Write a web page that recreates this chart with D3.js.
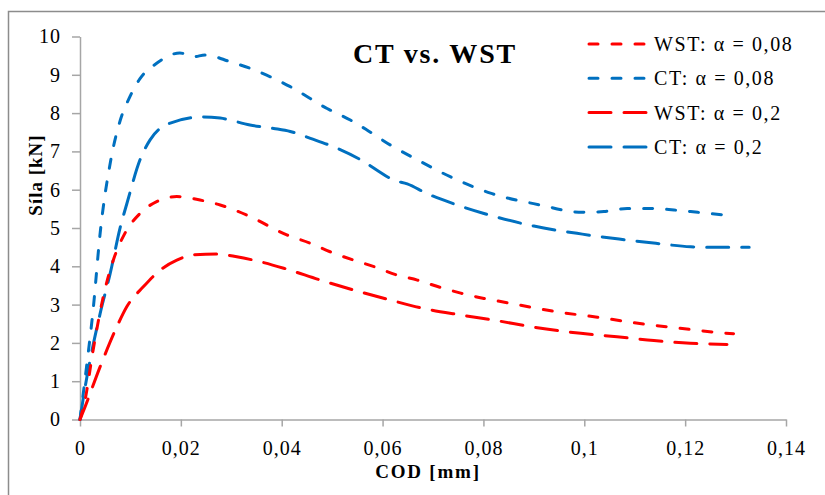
<!DOCTYPE html>
<html>
<head>
<meta charset="utf-8">
<script src="https://cdnjs.cloudflare.com/ajax/libs/d3/7.8.5/d3.min.js"></script>
<style>
    body { margin: 0; background: #fff; }
    text { font-family: "Liberation Serif", "Tinos", "Times New Roman", "DejaVu Serif", serif; fill: #000; }
</style>
</head>
<body>
<div id="chart"></div>
<script>
// values
const xTicks = [0, 0.02, 0.04, 0.06, 0.08, 0.1, 0.12, 0.14];
const yTicks = [0, 1, 2, 3, 4, 5, 6, 7, 8, 9, 10];

const wst008X = [0, 0.001, 0.0026, 0.0046, 0.0066, 0.0089, 0.0119, 0.0152, 0.0192, 0.0238, 0.0278, 0.0337, 0.041, 0.0457, 0.0496, 0.0543, 0.0583, 0.0629, 0.0669, 0.0714, 0.0755, 0.0801, 0.0847, 0.0894, 0.0946, 0.1026, 0.1072, 0.1119, 0.1165, 0.1211, 0.1258, 0.1296];
const wst008Y = [0, 0.51, 1.81, 3.2, 4.16, 4.86, 5.38, 5.69, 5.82, 5.73, 5.6, 5.3, 4.82, 4.6, 4.38, 4.16, 3.99, 3.77, 3.64, 3.45, 3.3, 3.16, 3.05, 2.93, 2.81, 2.67, 2.58, 2.49, 2.42, 2.35, 2.28, 2.24];

const ct008X = [0, 0.0013, 0.0026, 0.004, 0.006, 0.008, 0.0099, 0.0119, 0.0152, 0.0198, 0.0225, 0.0248, 0.0298, 0.0337, 0.0417, 0.049, 0.0536, 0.0569, 0.0615, 0.0669, 0.0734, 0.0814, 0.0913, 0.0996, 0.1039, 0.1085, 0.1132, 0.1178, 0.1225, 0.1285];
const ct008Y = [0, 1.38, 2.86, 4.87, 6.7, 7.82, 8.43, 8.9, 9.3, 9.57, 9.47, 9.52, 9.34, 9.17, 8.69, 8.12, 7.82, 7.56, 7.17, 6.78, 6.34, 5.91, 5.6, 5.41, 5.43, 5.51, 5.51, 5.47, 5.41, 5.33];

const wst02X = [0, 0.001, 0.004, 0.0073, 0.0093, 0.0126, 0.0159, 0.0192, 0.0225, 0.0271, 0.0311, 0.0357, 0.0404, 0.0477, 0.0543, 0.0615, 0.0681, 0.0755, 0.0827, 0.09, 0.0993, 0.1065, 0.1138, 0.121, 0.1283];
const wst02Y = [0, 0.33, 1.38, 2.42, 2.95, 3.47, 3.9, 4.16, 4.3, 4.32, 4.25, 4.12, 3.95, 3.64, 3.38, 3.12, 2.9, 2.73, 2.58, 2.41, 2.25, 2.16, 2.06, 1.99, 1.96];

const ct02X = [0, 0.0007, 0.002, 0.004, 0.006, 0.008, 0.0093, 0.0119, 0.0139, 0.0179, 0.0245, 0.0278, 0.0337, 0.0384, 0.0417, 0.0457, 0.051, 0.0563, 0.0589, 0.0622, 0.0649, 0.0688, 0.0748, 0.0801, 0.09, 0.0996, 0.1069, 0.1142, 0.1211, 0.1238, 0.1327];
const ct02Y = [0, 0.6, 1.55, 2.77, 3.82, 5.03, 5.64, 6.78, 7.3, 7.74, 7.9, 7.87, 7.69, 7.6, 7.52, 7.34, 7.08, 6.73, 6.51, 6.25, 6.15, 5.9, 5.6, 5.38, 5.05, 4.84, 4.71, 4.6, 4.51, 4.5, 4.5];

const seriesNames = ["WST: α = 0,08", "CT: α = 0,08", "WST: α = 0,2", "CT: α = 0,2"];

const SERIF = "'Liberation Serif', 'Tinos', 'Times New Roman', 'DejaVu Serif', serif";

function renderChart() {
    const W = 825, H = 495;
    const margin = {top: 36.5, right: 39, bottom: 75.5, left: 80},
        width = W - margin.left - margin.right,
        height = H - margin.top - margin.bottom;

    const root = d3.select("#chart").append("svg")
        .attr("width", W)
        .attr("height", H)
        .attr("font-family", SERIF);

    // outer frame (right and bottom edges fall off the picture)
    root.append("rect")
        .attr("x", 8.5).attr("y", 11.5)
        .attr("width", 900).attr("height", 600)
        .attr("fill", "none")
        .attr("stroke", "#8c8c8c")
        .attr("stroke-width", 1.5);

    const svg = root.append("g")
        .attr("transform", "translate(" + margin.left + "," + margin.top + ")");

    const x = d3.scaleLinear().domain([0, 0.14]).range([0, width]);
    const y = d3.scaleLinear().domain([0, 10]).range([height, 0]);

    const fmt = d => String(d).replace(".", ",");

    // Add X axis
    const xAxis = svg.append("g")
        .attr("transform", "translate(0," + height + ")")
        .call(d3.axisBottom(x).tickValues(xTicks).tickFormat(fmt)
            .tickSize(7).tickSizeOuter(0).tickPadding(14));

    // Add Y axis
    const yAxis = svg.append("g")
        .call(d3.axisLeft(y).tickValues(yTicks).tickFormat(fmt)
            .tickSize(8).tickSizeOuter(0).tickPadding(11));

    [xAxis, yAxis].forEach(function (a) {
        a.attr("font-family", SERIF).attr("font-size", 20);
        a.selectAll(".domain, .tick line")
            .attr("stroke", "#a6a6a6")
            .attr("stroke-width", 1.5);
        a.selectAll(".tick text")
            .style("font-family", SERIF)
            .style("font-weight", "normal")
            .style("letter-spacing", "1px")
            .attr("fill", "#000");
    });

    // axis titles and chart title
    root.append("text")
        .attr("x", 428).attr("y", 478)
        .attr("text-anchor", "middle")
        .style("font-size", "19px").style("font-weight", "bold")
        .style("letter-spacing", "1.8px")
        .text("COD [mm]");

    root.append("text")
        .attr("transform", "translate(42,175) rotate(-90)")
        .attr("text-anchor", "middle")
        .style("font-size", "19px").style("font-weight", "bold")
        .style("letter-spacing", "1px")
        .text("Síla [kN]");

    root.append("text")
        .attr("x", 435).attr("y", 63)
        .attr("text-anchor", "middle")
        .style("font-size", "28px").style("font-weight", "bold")
        .style("letter-spacing", "1.8px")
        .text("CT vs. WST");

    const series = [
        {name: seriesNames[0], xs: wst008X, ys: wst008Y, color: "#ff0000", dash: "9,14"},
        {name: seriesNames[1], xs: ct008X, ys: ct008Y, color: "#0070c0", dash: "9,14"},
        {name: seriesNames[2], xs: wst02X, ys: wst02Y, color: "#ff0000", dash: "22,13"},
        {name: seriesNames[3], xs: ct02X, ys: ct02Y, color: "#0070c0", dash: "22,13"}
    ];

    const line = d3.line()
        .x(d => x(d[0]))
        .y(d => y(d[1]))
        .curve(d3.curveMonotoneX);

    // draw in reverse so the first legend entry ends up on top
    svg.append("g")
        .selectAll("path")
        .data(series.slice().reverse())
        .enter()
        .append("path")
        .attr("d", d => line(d3.zip(d.xs, d.ys)))
        .attr("fill", "none")
        .attr("stroke", d => d.color)
        .attr("stroke-width", 3)
        .attr("stroke-linecap", "round")
        .attr("stroke-dasharray", d => d.dash);

    renderLegend(root, series);
}

function renderLegend(root, series) {
    const lg = root.append("g");
    lg.selectAll("line")
        .data(series)
        .enter()
        .append("line")
        .attr("x1", 589).attr("x2", 648)
        .attr("y1", (d, i) => 44 + i * 34.3)
        .attr("y2", (d, i) => 44 + i * 34.3)
        .attr("stroke", d => d.color)
        .attr("stroke-width", 3)
        .attr("stroke-linecap", "round")
        .attr("stroke-dasharray", d => d.dash);

    lg.selectAll("text")
        .data(series)
        .enter()
        .append("text")
        .attr("x", 654)
        .attr("y", (d, i) => 44 + i * 34.3)
        .attr("dy", "0.35em")
        .style("font-family", SERIF)
        .style("font-size", "20px")
        .style("letter-spacing", "1.6px")
        .text(d => d.name);
}

renderChart();
</script>
</body>
</html>
